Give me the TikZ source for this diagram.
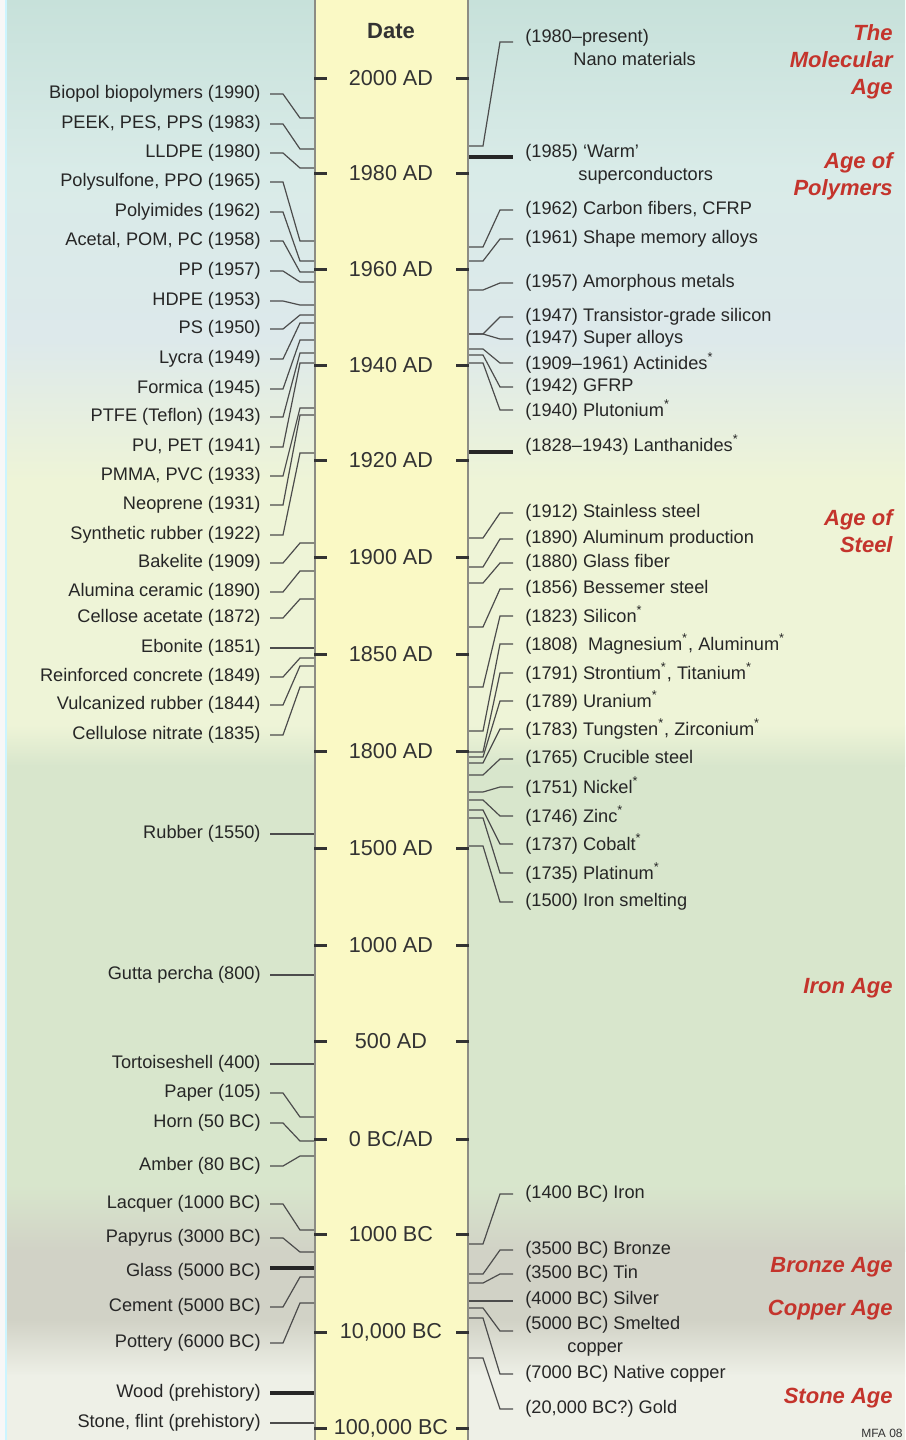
\documentclass[tikz,border=0pt]{standalone}
\usepackage{fontspec}
\setmainfont{Liberation Sans}
\usetikzlibrary{calc}

\definecolor{ageRed}{RGB}{196,52,44}
\definecolor{barFill}{RGB}{250,249,197}
\definecolor{barEdge}{RGB}{140,140,132}
\definecolor{bgTeal}{RGB}{199,225,218}
\definecolor{bgBlue}{RGB}{217,235,232}
\definecolor{bgBlueB}{RGB}{221,233,235}
\definecolor{bgYellow}{RGB}{238,244,215}
\definecolor{bgGreen}{RGB}{216,230,204}
\definecolor{bgGray}{RGB}{209,210,198}
\definecolor{bgStone}{RGB}{238,240,231}

\begin{document}
\begin{tikzpicture}[
    x=0.5pt, y=-0.5pt,
    font=\fontsize{9.1}{11.5}\selectfont,
    datebar/.style={draw=barEdge, line width=1pt, fill=barFill,
                    minimum width=76.5pt, minimum height=740pt, inner sep=0pt},
    datelbl/.style={font=\fontsize{10.8}{13}\selectfont, text=black!80, inner sep=0pt},
    lname/.style={anchor=east, inner sep=0pt, text=black!85},
    rname/.style={anchor=west, inner sep=0pt, text=black!85, align=left},
    agelbl/.style={anchor=east, align=right, inner sep=0pt, text=ageRed,
                   font=\fontsize{11}{13.5}\selectfont\bfseries\itshape},
    datetick/.style={line width=1.5pt, draw=black!80},
    wire/.style={draw=black!70, line width=0.6pt},
    heavy/.style={draw=black!85, line width=1.6pt},
    lwire/.style={wire, shorten <=4.5pt,
        to path={let \p1=(\tikztostart), \p2=(\tikztotarget), \p3=(283,0), \p4=(300,0)
                 in -- (\x3,\y1) -- (\x4,\y2) -- (\tikztotarget)}},
    rwire/.style={wire, shorten >=6pt,
        to path={let \p1=(\tikztostart), \p2=(\tikztotarget), \p3=(483,0), \p4=(500,0)
                 in -- (\x3,\y1) -- (\x4,\y2) -- (\tikztotarget)}},
]
\useasboundingbox (0,0) rectangle (905,1440);

% --- Background bands ---
\fill[black!3] (0,0) rectangle (6,1440);
\shade[top color=bgTeal, bottom color=bgBlue] (6,0) rectangle (905,171);
\shade[top color=bgBlue, bottom color=bgBlueB] (6,170) rectangle (905,341);
\shade[top color=bgBlueB, bottom color=bgYellow] (6,340) rectangle (905,481);
\fill[bgYellow] (6,480) rectangle (905,726);
\shade[top color=bgYellow, bottom color=bgGreen] (6,725) rectangle (905,766);
\fill[bgGreen] (6,765) rectangle (905,1186);
\shade[top color=bgGreen, bottom color=bgGray] (6,1185) rectangle (905,1251);
\fill[bgGray] (6,1250) rectangle (905,1321);
\shade[top color=bgGray, bottom color=bgStone] (6,1320) rectangle (905,1376);
\fill[bgStone] (6,1375) rectangle (905,1440);
\draw[blue!20!cyan!20, line width=1pt] (6,0) -- (6,1440);

% --- Date column ---
\node[datebar] (bar) at (391.5,720) {};
\node[font=\fontsize{11}{13}\selectfont\bfseries, text=black!80] (date) at (391,31) {Date};

\node[datelbl] (d2000) at (391,78) {2000 AD};
\node[datelbl] (d1980) at (391,173) {1980 AD};
\node[datelbl] (d1960) at (391,269) {1960 AD};
\node[datelbl] (d1940) at (391,365) {1940 AD};
\node[datelbl] (d1920) at (391,460) {1920 AD};
\node[datelbl] (d1900) at (391,557) {1900 AD};
\node[datelbl] (d1850) at (391,654) {1850 AD};
\node[datelbl] (d1800) at (391,751) {1800 AD};
\node[datelbl] (d1500) at (391,848) {1500 AD};
\node[datelbl] (d1000) at (391,945) {1000 AD};
\node[datelbl] (d500) at (391,1041) {500 AD};
\node[datelbl] (d0) at (391,1139) {0 BC/AD};
\node[datelbl] (dm1000) at (391,1234) {1000 BC};
\node[datelbl] (dm10k) at (391,1332) {10,000 BC};
\node[datelbl] (dm100k) at (391,1428) {100,000 BC};

\foreach \d in {d2000,d1980,d1960,d1940,d1920,d1900,d1850,d1800,d1500,
                d1000,d500,d0,dm1000,dm10k,dm100k}
    \draw[datetick] (bar.west |- \d) -- ++(13,0) (bar.east |- \d) -- ++(-13,0);

% ============================================================
% LEFT: polymers and other non-metals
% ============================================================
\node[lname] (biopol) at (261,94) {Biopol biopolymers (1990)};
\node[lname] (peek) at (261,124) {PEEK, PES, PPS (1983)};
\node[lname] (lldpe) at (261,153) {LLDPE (1980)};
\node[lname] (psulf) at (261,182) {Polysulfone, PPO (1965)};
\node[lname] (pimide) at (261,212) {Polyimides (1962)};
\node[lname] (acetal) at (261,241) {Acetal, POM, PC (1958)};
\node[lname] (pp) at (261,271) {PP (1957)};
\node[lname] (hdpe) at (261,301) {HDPE (1953)};
\node[lname] (ps) at (261,329) {PS (1950)};
\node[lname] (lycra) at (261,359) {Lycra (1949)};
\node[lname] (formica) at (261,389) {Formica (1945)};
\node[lname] (ptfe) at (261,417) {PTFE (Teflon) (1943)};
\node[lname] (pupet) at (261,447) {PU, PET (1941)};
\node[lname] (pmma) at (261,476) {PMMA, PVC (1933)};
\node[lname] (neopr) at (261,505) {Neoprene (1931)};
\node[lname] (synrub) at (261,535) {Synthetic rubber (1922)};
\node[lname] (bakel) at (261,563) {Bakelite (1909)};
\node[lname] (alumcer) at (261,592) {Alumina ceramic (1890)};
\node[lname] (cellac) at (261,618) {Cellose acetate (1872)};
\node[lname] (ebon) at (261,648) {Ebonite (1851)};
\node[lname] (reinf) at (261,677) {Reinforced concrete (1849)};
\node[lname] (vulc) at (261,705) {Vulcanized rubber (1844)};
\node[lname] (cellnit) at (261,735) {Cellulose nitrate (1835)};
\node[lname] (rubber) at (261,834) {Rubber (1550)};
\node[lname] (gutta) at (261,975) {Gutta percha (800)};
\node[lname] (tortoise) at (261,1064) {Tortoiseshell (400)};
\node[lname] (paper) at (261,1093) {Paper (105)};
\node[lname] (horn) at (261,1123) {Horn (50 BC)};
\node[lname] (amber) at (261,1166) {Amber (80 BC)};
\node[lname] (lacq) at (261,1204) {Lacquer (1000 BC)};
\node[lname] (papyr) at (261,1238) {Papyrus (3000 BC)};
\node[lname] (glass) at (261,1272) {Glass (5000 BC)};
\node[lname] (cement) at (261,1307) {Cement (5000 BC)};
\node[lname] (pottery) at (261,1343) {Pottery (6000 BC)};
\node[lname] (wood) at (261,1393) {Wood (prehistory)};
\node[lname] (stone) at (261,1423) {Stone, flint (prehistory)};

\draw[lwire] (biopol.east) to (bar.west |- 0,118);
\draw[lwire] (peek.east) to (bar.west |- 0,149);
\draw[lwire] (lldpe.east) to (bar.west |- 0,168);
\draw[lwire] (psulf.east) to (bar.west |- 0,241);
\draw[lwire] (pimide.east) to (bar.west |- 0,261);
\draw[lwire] (acetal.east) to (bar.west |- 0,272);
\draw[lwire] (pp.east) to (bar.west |- 0,282);
\draw[lwire] (hdpe.east) to (bar.west |- 0,305);
\draw[lwire] (ps.east) to (bar.west |- 0,315);
\draw[lwire] (lycra.east) to (bar.west |- 0,323);
\draw[lwire] (formica.east) to (bar.west |- 0,340);
\draw[lwire] (ptfe.east) to (bar.west |- 0,353);
\draw[lwire] (pupet.east) to (bar.west |- 0,363);
\draw[lwire] (pmma.east) to (bar.west |- 0,408);
\draw[lwire] (neopr.east) to (bar.west |- 0,415);
\draw[lwire] (synrub.east) to (bar.west |- 0,453);
\draw[lwire] (bakel.east) to (bar.west |- 0,543);
\draw[lwire] (alumcer.east) to (bar.west |- 0,571);
\draw[lwire] (cellac.east) to (bar.west |- 0,599);
\draw[wire, shorten <=4.5pt] (ebon.east) -- (bar.west |- ebon.east);
\draw[lwire] (reinf.east) to (bar.west |- 0,658);
\draw[lwire] (vulc.east) to (bar.west |- 0,666);
\draw[lwire] (cellnit.east) to (bar.west |- 0,687);
\draw[wire, shorten <=4.5pt] (rubber.east) -- (bar.west |- rubber.east);
\draw[wire, shorten <=4.5pt] (gutta.east) -- (bar.west |- gutta.east);
\draw[wire, shorten <=4.5pt] (tortoise.east) -- (bar.west |- tortoise.east);
\draw[lwire] (paper.east) to (bar.west |- 0,1117);
\draw[lwire] (horn.east) to (bar.west |- 0,1141);
\draw[lwire] (amber.east) to (bar.west |- 0,1156);
\draw[lwire] (lacq.east) to (bar.west |- 0,1230);
\draw[lwire] (papyr.east) to (bar.west |- 0,1252);
\draw[heavy, shorten <=4.5pt] (glass.east |- 0,1268) -- (bar.west |- 0,1268);
\draw[lwire] (cement.east) to (bar.west |- 0,1277);
\draw[lwire] (pottery.east) to (bar.west |- 0,1303);
\draw[heavy, shorten <=4.5pt] (wood.east) -- (bar.west |- wood.east);
\draw[wire, shorten <=4.5pt] (stone.east) -- (bar.west |- stone.east);

% ============================================================
% RIGHT: metals and functional materials
% ============================================================
\node[rname] (nano) at (525,47) {(1980--present)\\\hspace*{24pt}Nano materials};
\node[rname] (warm) at (525,164) {(1985) `Warm'\\\hspace*{26.5pt}superconductors};
\node[rname] (cfrp) at (525,210) {(1962) Carbon fibers, CFRP};
\node[rname] (sma) at (525,239) {(1961) Shape memory alloys};
\node[rname] (amorph) at (525,283) {(1957) Amorphous metals};
\node[rname] (transi) at (525,317) {(1947) Transistor-grade silicon};
\node[rname] (supall) at (525,339) {(1947) Super alloys};
\node[rname] (actin) at (525,363) {(1909--1961) Actinides\textsuperscript{*}};
\node[rname] (gfrp) at (525,387) {(1942) GFRP};
\node[rname] (pluto) at (525,410) {(1940) Plutonium\textsuperscript{*}};
\node[rname] (lanth) at (525,445) {(1828--1943) Lanthanides\textsuperscript{*}};
\node[rname] (stainl) at (525,513) {(1912) Stainless steel};
\node[rname] (alprod) at (525,539) {(1890) Aluminum production};
\node[rname] (glfib) at (525,563) {(1880) Glass fiber};
\node[rname] (bessem) at (525,589) {(1856) Bessemer steel};
\node[rname] (silic) at (525,616) {(1823) Silicon\textsuperscript{*}};
\node[rname] (magn) at (525,644) {(1808) \ Magnesium\textsuperscript{*}, Aluminum\textsuperscript{*}};
\node[rname] (stront) at (525,673) {(1791) Strontium\textsuperscript{*}, Titanium\textsuperscript{*}};
\node[rname] (uran) at (525,701) {(1789) Uranium\textsuperscript{*}};
\node[rname] (tungst) at (525,729) {(1783) Tungsten\textsuperscript{*}, Zirconium\textsuperscript{*}};
\node[rname] (cruc) at (525,759) {(1765) Crucible steel};
\node[rname] (nickel) at (525,787) {(1751) Nickel\textsuperscript{*}};
\node[rname] (zinc) at (525,816) {(1746) Zinc\textsuperscript{*}};
\node[rname] (cobalt) at (525,844) {(1737) Cobalt\textsuperscript{*}};
\node[rname] (platin) at (525,873) {(1735) Platinum\textsuperscript{*}};
\node[rname] (ironsm) at (525,902) {(1500) Iron smelting};
\node[rname] (iron) at (525,1194) {(1400 BC) Iron};
\node[rname] (bronze) at (525,1250) {(3500 BC) Bronze};
\node[rname] (tin) at (525,1274) {(3500 BC) Tin};
\node[rname] (silver) at (525,1300) {(4000 BC) Silver};
\node[rname] (smelt) at (525,1336) {(5000 BC) Smelted\\\hspace*{21pt}copper};
\node[rname] (natcu) at (525,1374) {(7000 BC) Native copper};
\node[rname] (gold) at (525,1409) {(20,000 BC?) Gold};

\draw[rwire] (bar.east |- 0,146) to ([yshift=2.5pt]nano.west);
\draw[heavy, shorten >=6pt] (bar.east |- 0,157) -- (warm.west |- 0,157);
\draw[rwire] (bar.east |- 0,247) to (cfrp.west);
\draw[rwire] (bar.east |- 0,261) to (sma.west);
\draw[rwire] (bar.east |- 0,290) to (amorph.west);
\draw[rwire] (bar.east |- 0,334) to (transi.west);
\draw[rwire] (bar.east |- 0,334) to (supall.west);
\draw[rwire] (bar.east |- 0,349) to (actin.west);
\draw[rwire] (bar.east |- 0,355) to (gfrp.west);
\draw[rwire] (bar.east |- 0,363) to (pluto.west);
\draw[heavy, shorten >=6pt] (bar.east |- 0,452) -- (lanth.west |- 0,452);
\draw[rwire] (bar.east |- 0,538) to (stainl.west);
\draw[rwire] (bar.east |- 0,567) to (alprod.west);
\draw[rwire] (bar.east |- 0,583) to (glfib.west);
\draw[rwire] (bar.east |- 0,627) to (bessem.west);
\draw[rwire] (bar.east |- 0,687) to (silic.west);
\draw[rwire] (bar.east |- 0,731) to (magn.west);
\draw[rwire] (bar.east |- 0,752) to (stront.west);
\draw[rwire] (bar.east |- 0,757) to (uran.west);
\draw[rwire] (bar.east |- 0,763) to (tungst.west);
\draw[rwire] (bar.east |- 0,775) to (cruc.west);
\draw[rwire] (bar.east |- 0,792) to (nickel.west);
\draw[rwire] (bar.east |- 0,800) to (zinc.west);
\draw[rwire] (bar.east |- 0,810) to (cobalt.west);
\draw[rwire] (bar.east |- 0,818) to (platin.west);
\draw[rwire] (bar.east |- 0,846) to (ironsm.west);
\draw[rwire] (bar.east |- 0,1244) to (iron.west);
\draw[rwire] (bar.east |- 0,1274) to (bronze.west);
\draw[rwire] (bar.east |- 0,1283) to (tin.west);
\draw[wire, shorten >=6pt] (bar.east |- 0,1301) -- (silver.west |- 0,1301);
\draw[rwire] (bar.east |- 0,1308) to ([yshift=2.5pt]smelt.west);
\draw[rwire] (bar.east |- 0,1318) to (natcu.west);
\draw[rwire] (bar.east |- 0,1358) to (gold.west);

% --- Ages ---
\node[agelbl] (molec) at (893,62) {The\\Molecular\\Age};
\node[agelbl] (polyage) at (893,176) {Age of\\Polymers};
\node[agelbl] (steelage) at (893,531) {Age of\\Steel};
\node[agelbl] (ironage) at (893,988) {Iron Age};
\node[agelbl] (bronzeage) at (893,1267) {Bronze Age};
\node[agelbl] (copperage) at (893,1310) {Copper Age};
\node[agelbl] (stoneage) at (893,1398) {Stone Age};

\node[anchor=north east, inner sep=0pt, font=\fontsize{6}{7}\selectfont, text=black!80]
    (mfa) at (903,1429) {MFA 08};

\end{tikzpicture}
\end{document}
